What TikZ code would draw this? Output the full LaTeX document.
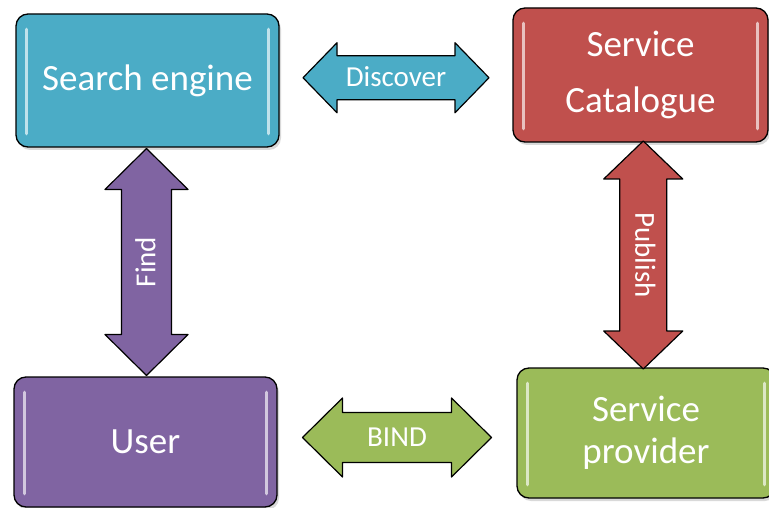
\documentclass[tikz,border=0pt]{standalone}
\usepackage{fontspec}
\setmainfont{Carlito}
\usetikzlibrary{shadows,calc}
\definecolor{cAqua}{HTML}{4BACC6}
\definecolor{cRed}{HTML}{C0504D}
\definecolor{cPurple}{HTML}{8064A2}
\definecolor{cGreen}{HTML}{9BBB59}
\tikzset{
  box/.style={draw=black, line width=1.3pt, rounded corners=12pt, text=white,
    font=\fontsize{37}{44}\selectfont, align=center, inner sep=0pt,
    drop shadow={shadow xshift=2pt,shadow yshift=-3pt,opacity=0.3}},
  gloss/.style={line width=3.5pt, line cap=round, white, opacity=0.65},
  dblarr/.style={draw=black, line width=1.2pt, line join=round},
  arrlabel/.style={text=white, font=\fontsize{29}{32}\selectfont, inner sep=0pt},
}
% #1 centre, #2 half length, #3 half shaft, #4 half head, #5 head length, #6 colour, #7 rotation
\newcommand\mydblarrow[7]{%
  \begin{scope}[shift={(#1)}, rotate=#7]
    \draw[dblarr, fill=#6] (-#2,0) -- ({-#2+#5},-#4) -- ({-#2+#5},-#3) -- ({#2-#5},-#3)
      -- ({#2-#5},-#4) -- (#2,0) -- ({#2-#5},#4) -- ({#2-#5},#3) -- ({-#2+#5},#3)
      -- ({-#2+#5},#4) -- cycle;
  \end{scope}}
\begin{document}
\begin{tikzpicture}[x=1pt,y=-1pt]
  \useasboundingbox (0,0) rectangle (769,508);
  \clip (0,0) rectangle (769,508);
  % boxes
  \node[box, fill=cAqua, minimum width=263pt, minimum height=133pt] (se) at (147.5,80.5) {Search engine};
  \node[box, fill=cRed, minimum width=255pt, minimum height=134pt,
        font=\fontsize{37}{56}\selectfont] (sc) at (640.5,75) {Service\\Catalogue};
  \node[box, fill=cPurple, minimum width=263pt, minimum height=130pt] (us) at (145.5,442) {User};
  \node[box, fill=cGreen, minimum width=258pt, minimum height=130pt,
        font=\fontsize{37}{42}\selectfont] (sp) at (646,433) {Service\\provider};
  % gloss highlights
  \foreach \n in {se,sc,us,sp}{
    \draw[gloss] ($(\n.north west)+(11,16)$) -- ($(\n.south west)+(11,-14)$);
    \draw[gloss] ($(\n.north east)+(-11,16)$) -- ($(\n.south east)+(-11,-14)$);
  }
  % connector centres
  \coordinate (d) at ($(se.east)!0.5!(sc.west)$);
  \coordinate (f) at ($(se.south)!0.5!(us.north)$);
  \coordinate (p) at ($(sc.south)!0.5!(sp.north)$);
  \coordinate (b) at ($(us.east)!0.5!(sp.west)$);
  % double arrows
  \mydblarrow{d}{93}{22}{35}{34}{cAqua}{0}
  \mydblarrow{f}{113.5}{25}{41.5}{41}{cPurple}{90}
  \mydblarrow{p}{114}{23.5}{39.5}{38}{cRed}{90}
  \mydblarrow{b}{94.5}{25}{39.5}{40}{cGreen}{0}
  % labels
  \node[arrlabel] (dl) at ($(d)+(0,-1)$) {Discover};
  \node[arrlabel, rotate=90] (fl) at ($(f)+(-1,0)$) {Find};
  \node[arrlabel, rotate=-90] (pl) at ($(p)+(2,0)$) {Publish};
  \node[arrlabel] (bl) at (b) {BIND};
\end{tikzpicture}
\end{document}
